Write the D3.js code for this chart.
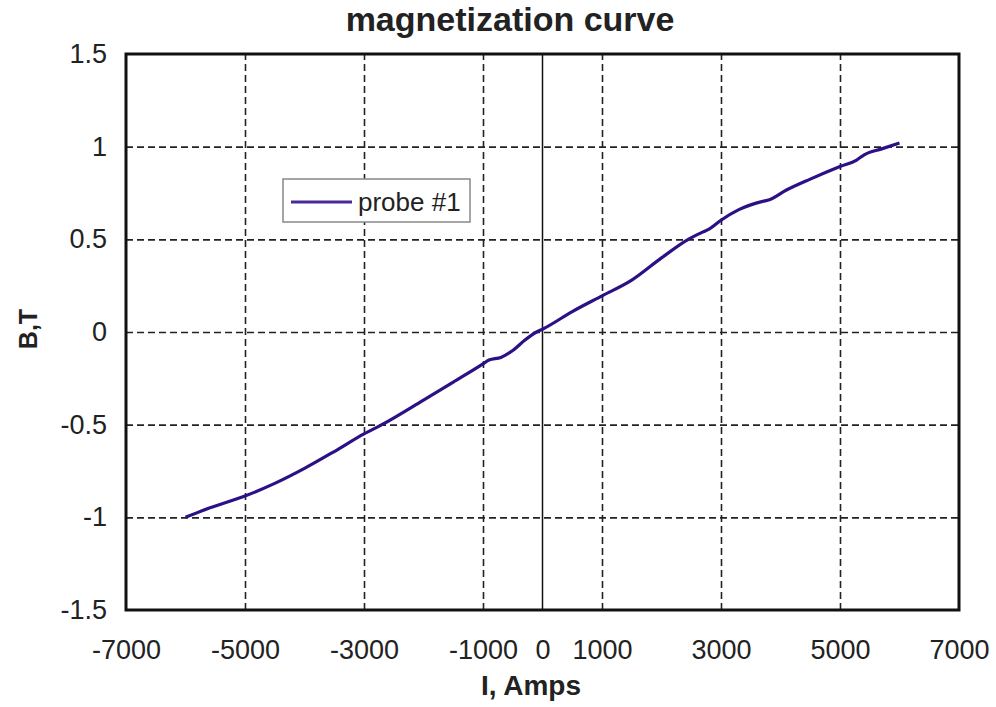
<!DOCTYPE html>
<html>
<head>
<meta charset="utf-8">
<script src="https://cdn.jsdelivr.net/npm/d3@7"></script>
<style>
  body { margin: 0; background: #fff; }
  svg { display: block; font-family: "Liberation Sans", Arial, sans-serif; }
</style>
</head>
<body>
<svg width="996" height="707"></svg>
<script>
// magnetization curve data
var current = [-6000, -5600, -5000, -4500, -4000, -3500, -3000, -2700, -2000, -1500,
    -1000, -900, -700, -500, -300, -100, 0, 500, 1000, 1500,
    2000, 2450, 2700, 2800, 3000, 3300, 3700, 3800, 4100, 4500,
    5000, 5280, 5400, 5700, 6000];
var field = [-1.0, -0.95, -0.885, -0.817, -0.736, -0.645, -0.55, -0.5, -0.367, -0.27,
    -0.172, -0.151, -0.137, -0.1, -0.045, 0.0, 0.015, 0.11, 0.195, 0.28,
    0.4, 0.5, 0.54, 0.555, 0.603, 0.66, 0.705, 0.712, 0.766, 0.825,
    0.893, 0.928, 0.955, 0.988, 1.02];
var xTicks = [-7000, -5000, -3000, -1000, 0, 1000, 3000, 5000, 7000];
var xGrid = [-5000, -3000, -1000, 1000, 3000, 5000];
var yTicks = [-1.5, -1, -0.5, 0, 0.5, 1, 1.5];
var yGrid = [-1, -0.5, 0, 0.5, 1];

var svg = d3.select('svg');
var margin = {top: 54, right: 37, bottom: 97, left: 126};
var width = 996 - margin.left - margin.right;
var height = 707 - margin.top - margin.bottom;
var g = svg.append('g').attr('transform', 'translate(' + margin.left + ',' + margin.top + ')');

var x = d3.scaleLinear().domain([-7000, 7000]).range([0, width]);
var y = d3.scaleLinear().domain([-1.5, 1.5]).range([height, 0]);

// grid lines
var gx = g.append('g')
    .attr('transform', 'translate(0,' + height + ')')
    .call(d3.axisBottom(x).tickValues(xGrid).tickSize(-height).tickFormat(''));
var gy = g.append('g')
    .call(d3.axisLeft(y).tickValues(yGrid).tickSize(-width).tickFormat(''));
[gx, gy].forEach(function (a) {
    a.select('.domain').remove();
    a.selectAll('line')
        .attr('stroke', '#222')
        .attr('stroke-width', 1.6)
        .attr('stroke-dasharray', '7,4');
});

// zero line
g.append('line')
    .attr('x1', x(0)).attr('x2', x(0))
    .attr('y1', 0).attr('y2', height)
    .attr('stroke', '#111')
    .attr('stroke-width', 1.5);

// tick labels
var ax = g.append('g')
    .attr('transform', 'translate(0,' + height + ')')
    .call(d3.axisBottom(x).tickValues(xTicks).tickSize(0).tickPadding(30)
        .tickFormat(function (d) { return String(d); }));
var ay = g.append('g')
    .call(d3.axisLeft(y).tickValues(yTicks).tickSize(0).tickPadding(19)
        .tickFormat(function (d) { return String(d); }));
[ax, ay].forEach(function (a) {
    a.select('.domain').remove();
    a.selectAll('text')
        .attr('fill', '#222')
        .style('font-size', '27px')
        .style('font-family', '"Liberation Sans", Arial, sans-serif');
});

// plot frame
g.append('rect')
    .attr('width', width).attr('height', height)
    .attr('fill', 'none')
    .attr('stroke', '#111')
    .attr('stroke-width', 3);

// curve
var line = d3.line()
    .x(function (d, i) { return x(current[i]); })
    .y(function (d, i) { return y(field[i]); })
    .curve(d3.curveMonotoneX);
g.append('path')
    .datum(current)
    .attr('d', line)
    .attr('fill', 'none')
    .attr('stroke', '#2c1086')
    .attr('stroke-width', 3.2)
    .attr('stroke-linejoin', 'round');

// legend
var leg = svg.append('g').attr('transform', 'translate(283,179)');
leg.append('rect')
    .attr('width', 187).attr('height', 43)
    .attr('fill', '#fff')
    .attr('stroke', '#888')
    .attr('stroke-width', 1.5);
leg.append('line')
    .attr('x1', 8).attr('x2', 69)
    .attr('y1', 23).attr('y2', 23)
    .attr('stroke', '#4a2a9a')
    .attr('stroke-width', 3);
leg.append('text')
    .attr('x', 75).attr('y', 32)
    .attr('fill', '#222')
    .style('font-size', '26px')
    .text('probe #1');

// title and axis labels
svg.append('text')
    .attr('x', 510).attr('y', 31)
    .attr('text-anchor', 'middle')
    .attr('fill', '#222')
    .style('font-size', '34px')
    .style('font-weight', 'bold')
    .text('magnetization curve');

svg.append('text')
    .attr('x', 531).attr('y', 695)
    .attr('text-anchor', 'middle')
    .attr('fill', '#222')
    .style('font-size', '28px')
    .style('font-weight', 'bold')
    .text('I, Amps');

svg.append('text')
    .attr('transform', 'translate(37,329) rotate(-90)')
    .attr('text-anchor', 'middle')
    .attr('fill', '#222')
    .style('font-size', '25px')
    .style('font-weight', 'bold')
    .text('B,T');
</script>
</body>
</html>
